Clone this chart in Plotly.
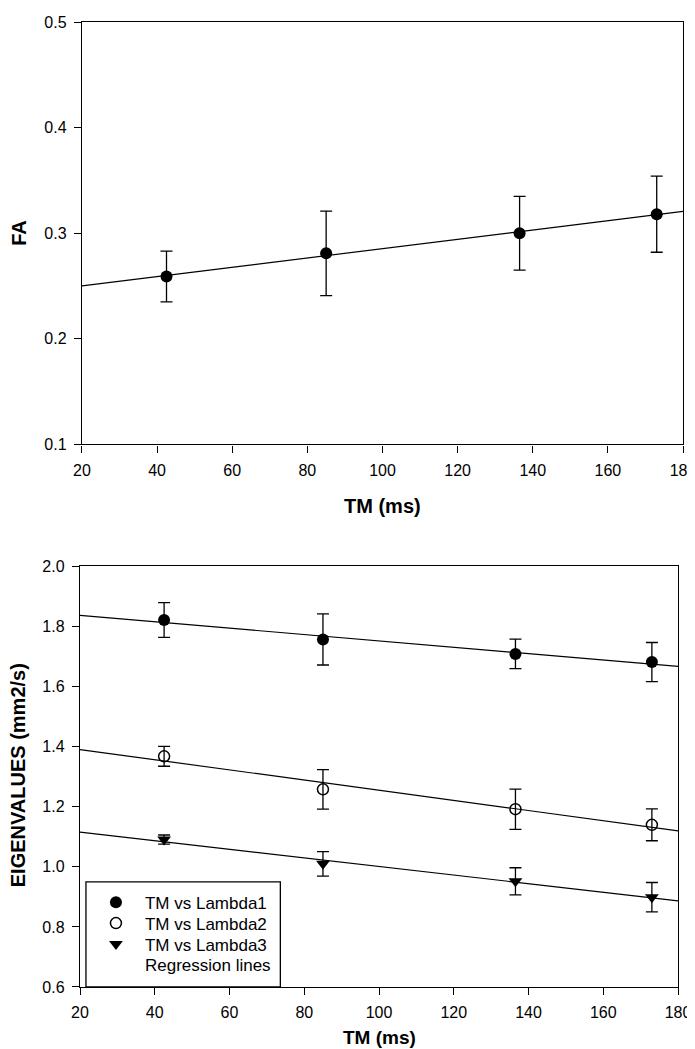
import numpy as np
import plotly.graph_objects as go

# ---- data ----
tm_ms = [42.5, 85.0, 136.5, 173.0]
fa_mean = [0.259, 0.281, 0.300, 0.318]
fa_err = [0.024, 0.040, 0.035, 0.036]

lambda1 = [1.822, 1.757, 1.709, 1.682]
lambda1_err = [0.058, 0.085, 0.049, 0.065]
lambda2 = [1.368, 1.258, 1.192, 1.140]
lambda2_err = [0.033, 0.066, 0.067, 0.053]
lambda3 = [1.091, 1.010, 0.952, 0.899]
lambda3_err = [0.015, 0.041, 0.045, 0.049]

series_names = ["TM vs Lambda1", "TM vs Lambda2", "TM vs Lambda3"]
regression_name = "Regression lines"

x_ticks = [20, 40, 60, 80, 100, 120, 140, 160, 180]
fa_ticks = [0.1, 0.2, 0.3, 0.4, 0.5]
eig_ticks = [0.6, 0.8, 1.0, 1.2, 1.4, 1.6, 1.8, 2.0]

x_range = [20, 180]

FONT = "Liberation Sans, Arial, sans-serif"
W, H = 695, 1049
ML, MR, MT, MB = 72, 14, 6, 70
PW, PH = W - ML - MR, H - MT - MB


def px_x(px):
    return (px - ML) / PW


def px_y(py):
    return (H - MB - py) / PH


def regression(xs, ys):
    slope, intercept = np.polyfit(xs, ys, 1)
    xl = np.array(x_range, dtype=float)
    return xl, slope * xl + intercept


fig = go.Figure()

err_style = dict(type="data", visible=True, color="black", thickness=1.3, width=6)

# ---- top panel: FA ----
fig.add_trace(go.Scatter(
    x=tm_ms, y=fa_mean, mode="markers", xaxis="x", yaxis="y", showlegend=False,
    marker=dict(symbol="circle", size=12, color="black"),
    error_y=dict(array=fa_err, **err_style),
))
xl, yl = regression(tm_ms, fa_mean)
fig.add_trace(go.Scatter(x=xl, y=yl, mode="lines", xaxis="x", yaxis="y",
                         showlegend=False, line=dict(color="black", width=1.2)))

# ---- bottom panel: eigenvalues ----
markers = [
    dict(symbol="circle", size=12, color="black"),
    dict(symbol="circle-open", size=11, color="black", line=dict(width=1.5, color="black")),
    dict(symbol="triangle-down", size=12, color="black"),
]
values = [lambda1, lambda2, lambda3]
errors = [lambda1_err, lambda2_err, lambda3_err]
legend_ids = ["legend", "legend2", "legend3"]

for vals in values:
    xl, yl = regression(tm_ms, vals)
    fig.add_trace(go.Scatter(x=xl, y=yl, mode="lines", xaxis="x2", yaxis="y2",
                             showlegend=False, line=dict(color="black", width=1.2)))
for name, vals, errs, mk, lg in zip(series_names, values, errors, markers, legend_ids):
    fig.add_trace(go.Scatter(
        x=tm_ms, y=vals, mode="markers", name=name, xaxis="x2", yaxis="y2",
        marker=mk, error_y=dict(array=errs, **err_style), legend=lg,
    ))
# legend entry for the regression lines (no symbol shown, as in the reference)
fig.add_trace(go.Scatter(x=[None], y=[None], mode="markers", name=regression_name,
                         xaxis="x2", yaxis="y2", legend="legend4",
                         marker=dict(color="rgba(0,0,0,0)", size=1)))

axis_common = dict(
    showgrid=False, zeroline=False, showline=True, linecolor="black", linewidth=1.4,
    mirror=True, ticks="outside", ticklen=7, tickwidth=1.3, tickcolor="black",
    tickfont=dict(family=FONT, size=16, color="black"),
)

LEG_X = px_x(79)
leg_common = dict(x=LEG_X, xanchor="left", yanchor="middle",
                  bgcolor="rgba(0,0,0,0)", borderwidth=0, itemwidth=48,
                  font=dict(family=FONT, size=17, color="black"))

title_font = dict(family=FONT, size=20, color="black")

fig.update_layout(
    width=W, height=H,
    margin=dict(l=ML, r=MR, t=MT, b=MB),
    paper_bgcolor="white", plot_bgcolor="white",
    font=dict(family=FONT, color="black"),
    xaxis=dict(domain=[px_x(74), px_x(680)], anchor="y", range=x_range,
               tickvals=x_ticks, ticklabelstandoff=4, **axis_common),
    yaxis=dict(domain=[px_y(432), px_y(6)], anchor="x", range=[0.1, 0.5],
               tickvals=fa_ticks, tickformat=".1f", ticklabelstandoff=4, **axis_common),
    xaxis2=dict(domain=[px_x(72), px_x(675)], anchor="y2", range=x_range,
                tickvals=x_ticks, ticklabelstandoff=4, **axis_common),
    yaxis2=dict(domain=[px_y(979), px_y(555)], anchor="x2", range=[0.6, 2.0],
                tickvals=eig_ticks, tickformat=".1f", ticklabelstandoff=4, **axis_common),
    showlegend=True,
    legend=dict(y=px_y(894), **leg_common),
    legend2=dict(y=px_y(915), **leg_common),
    legend3=dict(y=px_y(936), **leg_common),
    legend4=dict(y=px_y(957), **leg_common),
    shapes=[dict(type="rect", xref="paper", yref="paper",
                 x0=px_x(78), x1=px_x(274), y0=0, y1=px_y(873),
                 line=dict(color="black", width=1.3), fillcolor="rgba(0,0,0,0)")],
    annotations=[
        dict(text="<b>FA</b>", textangle=-90, xref="paper", yref="paper",
             x=px_x(11), y=px_y(219), xanchor="center", yanchor="middle",
             showarrow=False, font=title_font),
        dict(text="<b>TM (ms)</b>", xref="paper", yref="paper",
             x=px_x(377), y=px_y(494), xanchor="center", yanchor="middle",
             showarrow=False, font=title_font),
        dict(text="<b>EIGENVALUES (mm2/s)</b>", textangle=-90, xref="paper", yref="paper",
             x=px_x(9), y=px_y(766), xanchor="center", yanchor="middle",
             showarrow=False, font=title_font),
        dict(text="<b>TM (ms)</b>", xref="paper", yref="paper",
             x=px_x(374), y=px_y(1030), xanchor="center", yanchor="middle",
             showarrow=False, font=dict(family=FONT, size=19, color="black")),
    ],
)

fig.write_html("out.html")
